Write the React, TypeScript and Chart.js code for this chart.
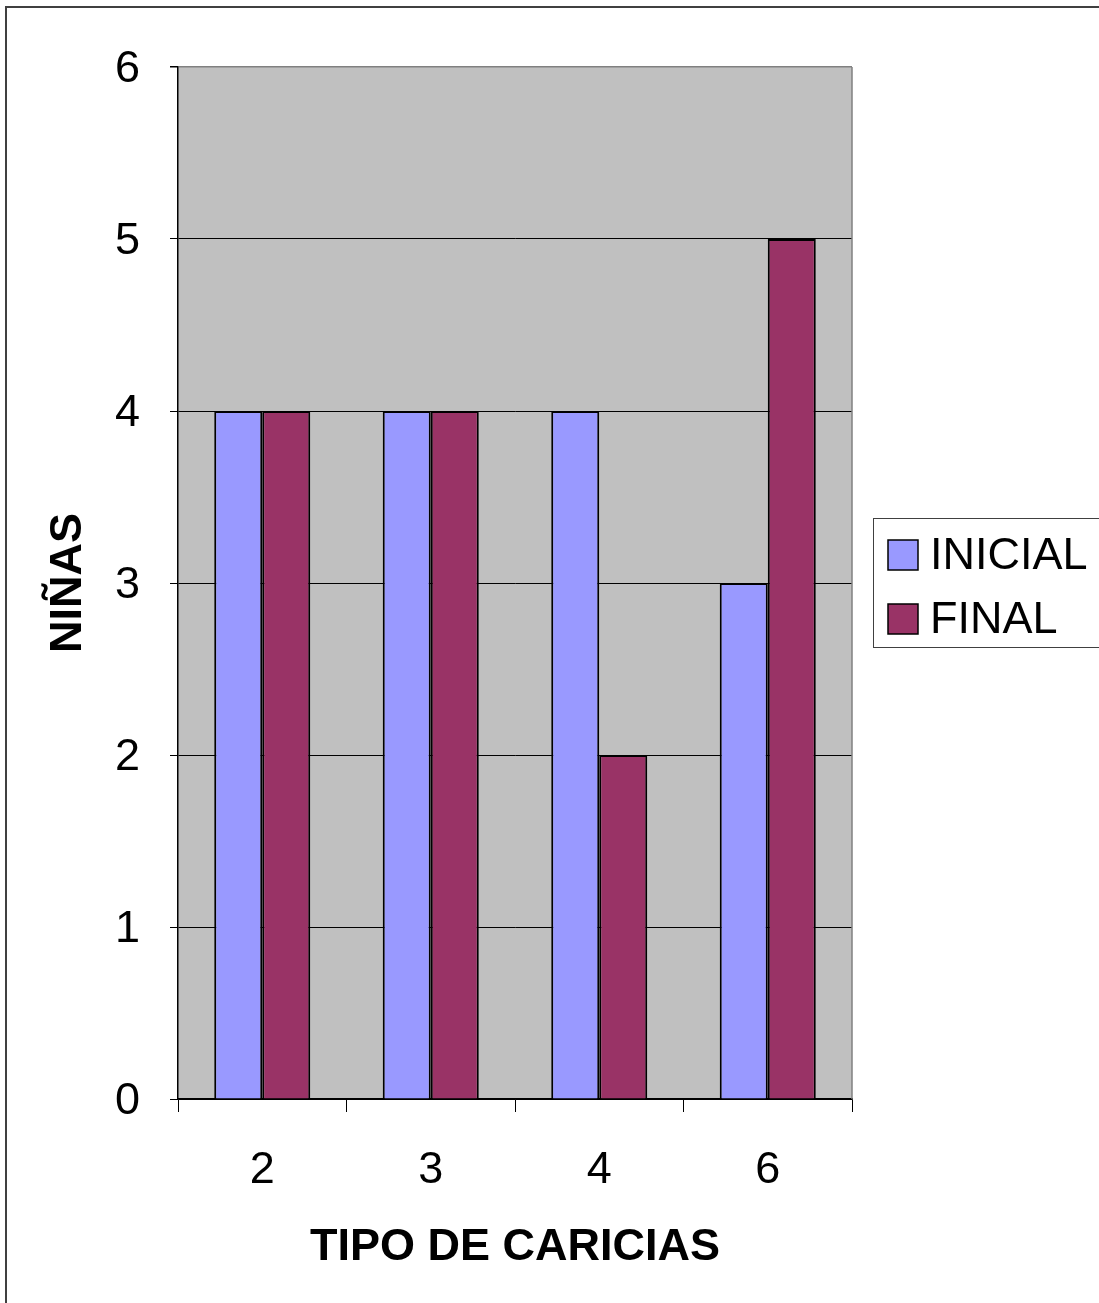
import React, { useEffect, useRef } from "react";
import { Chart, registerables } from "chart.js";

Chart.register(...registerables);

const categories = ["2", "3", "4", "6"];
const inicialValues = [4, 4, 4, 3];
const finalValues = [4, 4, 2, 5];
const seriesNames = ["INICIAL", "FINAL"];
const seriesColors = ["#9999FF", "#993366"];
const yTitle = "NIÑAS";
const xTitle = "TIPO DE CARICIAS";

const FONT = "'Liberation Sans', Arial, sans-serif";
const W = 1099;
const H = 1303;

// Page frame, plot background, right plot border and the boxed legend.
const framePlugin = {
  id: "frame",
  beforeDraw(chart: any) {
    const ctx = chart.ctx;
    ctx.save();
    ctx.fillStyle = "#ffffff";
    ctx.fillRect(0, 0, W, H);
    ctx.strokeStyle = "#404040";
    ctx.lineWidth = 2;
    ctx.beginPath();
    ctx.moveTo(6, H);
    ctx.lineTo(6, 7);
    ctx.lineTo(W, 7);
    ctx.stroke();
    const a = chart.chartArea;
    ctx.fillStyle = "#C0C0C0";
    ctx.fillRect(a.left, a.top, a.right - a.left, a.bottom - a.top);
    ctx.restore();
  },
  beforeDatasetsDraw(chart: any) {
    const ctx = chart.ctx;
    const a = chart.chartArea;
    ctx.save();
    ctx.strokeStyle = "#808080";
    ctx.lineWidth = 1.5;
    ctx.beginPath();
    ctx.moveTo(a.right, a.top);
    ctx.lineTo(a.right, a.bottom);
    ctx.stroke();
    ctx.restore();
  },
  afterDraw(chart: any) {
    const ctx = chart.ctx;
    ctx.save();
    // legend box
    const bx = 873.5;
    const by = 518.5;
    const bw = 240;
    const bh = 129;
    ctx.strokeStyle = "#404040";
    ctx.lineWidth = 1;
    ctx.strokeRect(bx, by, bw, bh);
    ctx.font = `45px ${FONT}`;
    ctx.textBaseline = "middle";
    ctx.textAlign = "left";
    const rows = [555, 619];
    chart.data.datasets.forEach((ds: any, i: number) => {
      const cy = rows[i];
      ctx.fillStyle = ds.backgroundColor;
      ctx.fillRect(888, cy - 15, 30, 30);
      ctx.strokeStyle = "#000";
      ctx.lineWidth = 1.5;
      ctx.strokeRect(888, cy - 15, 30, 30);
      ctx.fillStyle = "#000";
      ctx.fillText(ds.label, 930, cy + 2);
    });
    ctx.restore();
  },
};

export default function App() {
  const ref = useRef<HTMLCanvasElement | null>(null);

  useEffect(() => {
    if (!ref.current) return;
    const chart = new Chart(ref.current, {
      type: "bar",
      data: {
        labels: categories,
        datasets: [
          {
            label: seriesNames[0],
            data: inicialValues,
            backgroundColor: seriesColors[0],
            borderColor: "#000",
            borderWidth: 2,
          },
          {
            label: seriesNames[1],
            data: finalValues,
            backgroundColor: seriesColors[1],
            borderColor: "#000",
            borderWidth: 2,
          },
        ],
      },
      options: {
        responsive: false,
        animation: false,
        devicePixelRatio: 1,
        layout: { padding: { top: 67, right: 247, left: 0, bottom: 0 } },
        datasets: { bar: { categoryPercentage: 0.57, barPercentage: 1 } },
        plugins: {
          legend: { display: false },
          tooltip: { enabled: false },
        },
        scales: {
          x: {
            afterFit: (s: any) => {
              s.height = 204;
            },
            grid: {
              display: true,
              offset: true,
              drawOnChartArea: false,
              tickLength: 13,
              color: "#000",
              lineWidth: 1,
            },
            border: { display: true, color: "#000", width: 1.5 },
            ticks: {
              color: "#000",
              padding: 32,
              font: { family: FONT, size: 45 },
            },
            title: {
              display: true,
              text: xTitle,
              color: "#000",
              font: { family: FONT, size: 45, weight: "bold" },
              padding: { top: 0, bottom: 28 },
            },
          },
          y: {
            min: 0,
            max: 6,
            afterFit: (s: any) => {
              s.width = 178;
            },
            ticks: {
              stepSize: 1,
              color: "#000",
              padding: 30,
              labelOffset: 3,
              font: { family: FONT, size: 45 },
            },
            grid: {
              tickLength: 8,
              color: (c: any) => (c.tick && c.tick.value === 6 ? "#808080" : "#000"),
              tickColor: "#000",
              lineWidth: (c: any) => (c.tick && c.tick.value === 6 ? 1.5 : 1),
            },
            border: { display: true, color: "#000", width: 1.5 },
            title: {
              display: true,
              text: yTitle,
              color: "#000",
              font: { family: FONT, size: 45, weight: "bold" },
              padding: { top: 42, bottom: 0 },
            },
          },
        },
      },
      plugins: [framePlugin],
    } as any);
    return () => chart.destroy();
  }, []);

  return (
    <div style={{ position: "absolute", left: 0, top: 0, width: W, height: H }}>
      <canvas ref={ref} width={W} height={H} style={{ display: "block" }} />
    </div>
  );
}
